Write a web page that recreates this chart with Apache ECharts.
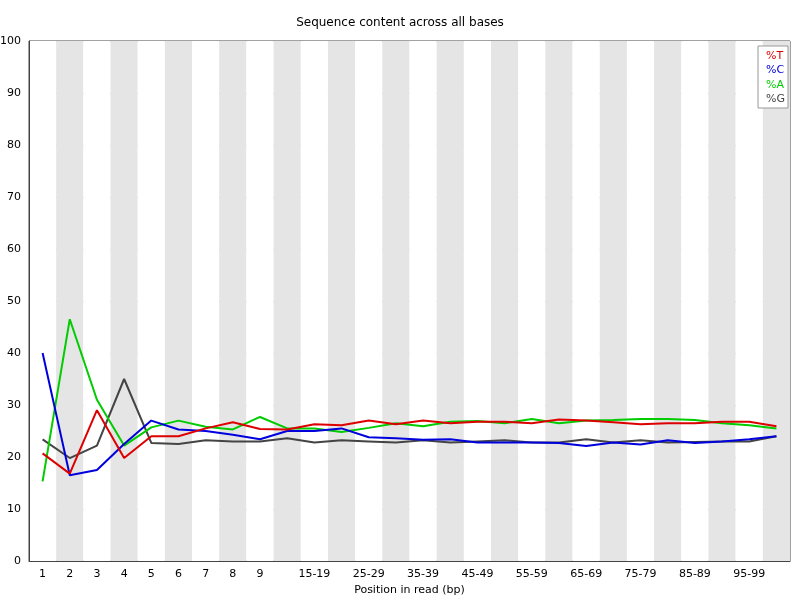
<!DOCTYPE html>
<html><head><meta charset="utf-8">
<script src="https://cdn.jsdelivr.net/npm/echarts@6/dist/echarts.min.js"></script>
<style>html,body{margin:0;padding:0;background:#fff}#c{width:800px;height:600px}</style>
</head><body><div id="c"></div>
<script>
const categories = ['1','2','3','4','5','6','7','8','9','10-14','15-19','20-24','25-29','30-34','35-39','40-44','45-49','50-54','55-59','60-64','65-69','70-74','75-79','80-84','85-89','90-94','95-99','100-101'];
const seriesT = [20.7,16.8,29,19.8,24,24,25.5,26.7,25.4,25.3,26.3,26.1,27,26.3,27,26.5,26.8,26.8,26.5,27.2,27,26.7,26.3,26.5,26.5,26.8,26.8,25.9];
const seriesC = [40,16.5,17.5,22.5,27,25.3,25,24.3,23.4,25,25,25.5,23.8,23.6,23.3,23.4,22.8,22.8,22.8,22.7,22.1,22.8,22.4,23.2,22.7,23.0,23.4,24];
const seriesA = [15.3,46.5,31,22.2,25.7,27,25.8,25.3,27.7,25.5,25.5,24.8,25.6,26.5,25.9,26.8,26.9,26.5,27.3,26.5,27,27.1,27.3,27.3,27.1,26.5,26.1,25.5];
const seriesG = [23.4,19.8,22.2,35,22.7,22.5,23.2,23,23,23.6,22.8,23.2,23,22.8,23.2,22.8,23,23.2,22.8,22.8,23.4,22.8,23.2,22.8,22.9,23,23,24];
const names = ['%T','%C','%A','%G'];
const colors = ['#dd0000','#0000dd','#00cc00','#444444'];
const vals = [seriesT, seriesC, seriesA, seriesG];
const chart = echarts.init(document.getElementById('c'));
chart.setOption({
  animation:false,
  textStyle:{fontFamily:'DejaVu Sans'},
  title:{text:'Sequence content across all bases',left:'center',top:12,textStyle:{fontSize:12,fontWeight:'normal',color:'#000'}},
  grid:{left:29,right:10,top:41,bottom:39,show:true,borderColor:'#444',borderWidth:1,containLabel:false,outerBoundsMode:'none'},
  legend:{right:12,top:46,orient:'vertical',icon:'none',itemWidth:0,itemGap:2,itemHeight:14,
    backgroundColor:'#fff',borderColor:'#999',borderWidth:1,padding:[3,3],
    data:names.map((n,i)=>({name:n,textStyle:{color:colors[i],fontSize:11}}))},
  xAxis:{type:'category',data:categories,boundaryGap:true,
    name:'Position in read (bp)',nameLocation:'middle',nameGap:24,nameTextStyle:{fontSize:11,color:'#000'},
    axisLine:{lineStyle:{color:'#444'}},axisTick:{show:false},
    axisLabel:{fontSize:11,color:'#000',interval:(i)=> i<9 || (i-9)%2===1},
    splitArea:{show:true,interval:0,areaStyle:{color:['#ffffff','#e5e5e5']}}},
  yAxis:{type:'value',min:0,max:100,interval:10,
    axisLine:{show:true,lineStyle:{color:'#444'}},axisTick:{show:false},
    axisLabel:{fontSize:11,color:'#000'},
    splitLine:{lineStyle:{color:'#aaa'}}},
  series:vals.map((v,i)=>({name:names[i],type:'line',data:v,symbol:'none',z:10-i,
    lineStyle:{color:colors[i],width:2},itemStyle:{color:colors[i]}}))
});
</script></body></html>
